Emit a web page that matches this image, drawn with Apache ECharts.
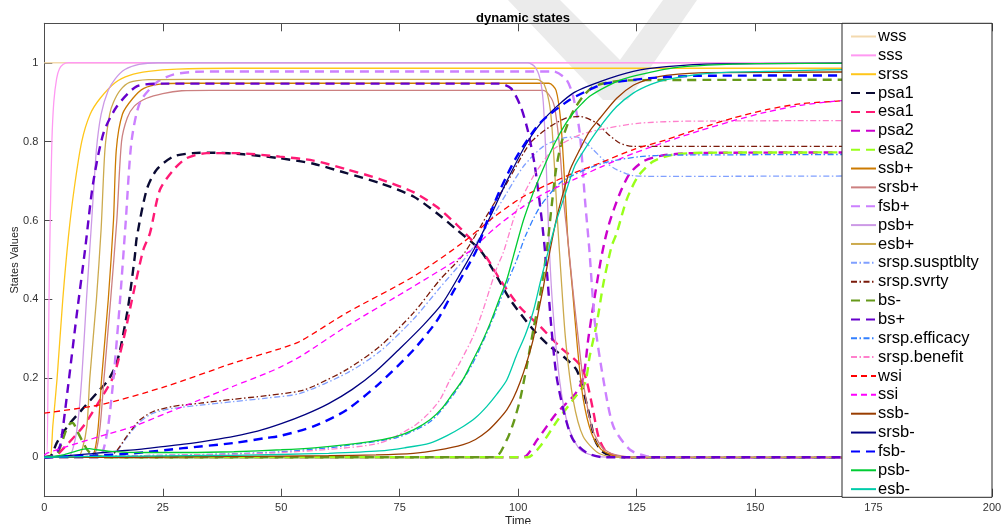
<!DOCTYPE html>
<html>
<head>
<meta charset="utf-8">
<script src="https://cdn.jsdelivr.net/npm/echarts@6/dist/echarts.min.js"></script>
<style>
html,body{margin:0;padding:0;background:#fff;}
#chart{width:1002px;height:524px;}
</style>
</head>
<body>
<div id="chart"></div>
<script>
// ---------- data (x = Time, y = state value) ----------
const xTicks = [0, 25, 50, 75, 100, 125, 150, 175, 200];
const yTicks = [0, 0.2, 0.4, 0.6, 0.8, 1];

const wss = [[0,1],[200,1]];
const sss = [[0,0],[0.5,0],[0.8,0.2],[1.0,0.4],[1.25,0.6],[1.6,0.8],[2.0,0.9],[2.6,0.96],[3.2,0.985],[4,0.996],[5,1],[200,1]];
const srss = [[0,0],[1.2,0],[1.8,0.08],[2.7,0.2],[3.9,0.4],[5.1,0.56],[6.3,0.68],[7.9,0.8],[9.7,0.87],[11.8,0.91],[15,0.95],[18,0.968],[22,0.978],[28,0.984],[40,0.986],[200,0.986]];
const psa1 = [[0,0],[1.5,0.005],[2.6,0.036],[5,0.08],[7.9,0.12],[11.1,0.163],[13.5,0.196],[15,0.23],[16,0.272],[17.7,0.382],[19.1,0.509],[19.5,0.556],[21.6,0.678],[23.7,0.729],[27.2,0.762],[31.4,0.771],[35.7,0.772],[42,0.768],[49.7,0.758],[56.8,0.744],[63.8,0.72],[70.8,0.695],[77.9,0.661],[82.8,0.619],[87,0.577],[91.9,0.526],[94.7,0.475],[98.3,0.4],[103.2,0.323],[106.7,0.281],[109.5,0.256],[112.3,0.222],[113.7,0.171],[115.1,0.103],[116.2,0.044],[117.7,0.015],[120,0.003],[123,0],[200,0]];
const esa1 = [[0,0],[2.5,0.005],[4.4,0.027],[8.2,0.078],[11.8,0.146],[14.6,0.205],[16.7,0.298],[18.8,0.416],[20.9,0.526],[22.3,0.568],[24.4,0.678],[27.3,0.729],[30,0.758],[34.3,0.771],[40,0.771],[49.7,0.762],[56.8,0.752],[63.8,0.73],[70.8,0.705],[77.9,0.672],[82.8,0.635],[87,0.59],[91,0.54],[93.4,0.505],[96.2,0.45],[100.4,0.38],[104.6,0.332],[108.8,0.28],[113,0.235],[114.4,0.196],[115.8,0.12],[117,0.05],[118.5,0.015],[121,0.002],[124,0],[200,0]];
const psa2 = [[0,0],[101,0],[104,0.044],[108,0.11],[112,0.16],[113.7,0.2],[114.8,0.3],[115.8,0.38],[117.3,0.49],[118.3,0.55],[119.4,0.6],[121.5,0.67],[123.6,0.72],[126.4,0.75],[130,0.764],[135,0.77],[145,0.772],[200,0.773]];
const esa2 = [[0,0],[102,0],[104.6,0.027],[108.1,0.09],[111.6,0.146],[114.1,0.188],[115.1,0.256],[116.6,0.34],[118,0.441],[119.7,0.534],[120.8,0.568],[122.9,0.653],[125.3,0.712],[128.5,0.75],[132.7,0.767],[140,0.772],[200,0.773]];
const ssbPlus = [[0,0],[9.8,0],[10.7,0.02],[11.4,0.08],[12.1,0.2],[13.5,0.4],[14.6,0.6],[15.2,0.78],[16.5,0.87],[18.7,0.91],[21,0.935],[24.4,0.946],[30,0.948],[106.5,0.948],[108,0.93],[109,0.85],[109.8,0.7],[110.5,0.55],[111.5,0.42],[112.5,0.28],[113.7,0.15],[115.5,0.06],[117.5,0.02],[120,0.005],[125,0],[200,0]];
const srsbPlus = [[0,0],[10,0],[11,0.02],[11.8,0.08],[12.6,0.2],[14,0.4],[15.3,0.6],[16.3,0.8],[17.5,0.86],[19,0.89],[21.6,0.91],[25,0.922],[29,0.929],[35,0.93],[105.3,0.93],[107,0.91],[107.8,0.88],[108.8,0.78],[109.6,0.65],[110.5,0.55],[111.5,0.43],[112.7,0.3],[114,0.17],[115.7,0.07],[117.7,0.025],[120,0.008],[125,0],[200,0]];
const fsbPlus = [[0,0],[11.5,0],[12.5,0.02],[13.5,0.08],[14.6,0.2],[16,0.4],[17.2,0.6],[18.4,0.8],[20.2,0.9],[23.7,0.95],[27.2,0.97],[32,0.977],[40,0.978],[107.4,0.978],[110.2,0.957],[111.6,0.915],[113,0.822],[114.1,0.653],[115,0.53],[116.2,0.34],[118,0.196],[120.1,0.078],[123.6,0.019],[127,0.003],[130,0],[200,0]];
const psbPlus = [[0,0],[5,0],[6,0.02],[7,0.08],[7.9,0.2],[8.9,0.4],[10,0.6],[11,0.78],[12,0.87],[13.5,0.93],[15,0.96],[17,0.983],[20,0.996],[24,1],[102,1],[103.5,0.99],[104.6,0.96],[105.3,0.9],[105.9,0.75],[106.5,0.55],[107.3,0.38],[108.8,0.19],[110.6,0.078],[113,0.02],[116,0.004],[120,0],[200,0]];
const esbPlus = [[0,0],[7,0],[8,0.02],[9,0.08],[9.6,0.2],[11,0.4],[12,0.58],[12.8,0.78],[13.8,0.87],[14.6,0.9],[16,0.93],[18,0.95],[22,0.957],[30,0.958],[104,0.958],[105.5,0.945],[106.8,0.88],[107.6,0.75],[108.3,0.6],[109,0.47],[110,0.3],[111.6,0.146],[113.7,0.053],[117,0.01],[121,0],[200,0]];
const susptblty = [[0,0],[13,0],[14,0.003],[15.5,0.018],[17.4,0.05],[20.2,0.09],[23,0.112],[27.2,0.124],[32.9,0.132],[39.9,0.141],[46.9,0.15],[54,0.162],[63.8,0.213],[70.8,0.268],[77.9,0.35],[83.5,0.43],[88.5,0.5],[91,0.54],[94.1,0.6],[97.6,0.67],[101.1,0.737],[105.3,0.788],[109.5,0.809],[112.3,0.812],[114,0.8],[115.8,0.78],[118.7,0.746],[120.8,0.729],[124.3,0.714],[130,0.712],[200,0.714]];
const svrty = [[0,0],[13,0],[14,0.003],[15.5,0.02],[17.4,0.053],[20.2,0.095],[23,0.116],[27.2,0.129],[32.9,0.137],[39.9,0.147],[46.9,0.156],[54,0.168],[56.8,0.18],[63.8,0.222],[70.8,0.281],[77.9,0.366],[83.5,0.45],[88.5,0.515],[94.1,0.627],[97.6,0.695],[102.5,0.796],[106.7,0.838],[110.2,0.86],[113,0.864],[116.6,0.847],[118.7,0.822],[121.5,0.796],[124.3,0.788],[130,0.788],[200,0.788]];
const bsMinus = [[0,0],[2.5,0.005],[3.5,0.03],[4.5,0.065],[5.4,0.085],[6,0.087],[7,0.065],[7.9,0.044],[9,0.02],[10,0.008],[12,0.002],[15,0],[95,0],[97.6,0.044],[99,0.087],[100.4,0.146],[101.8,0.23],[103.2,0.323],[104.6,0.408],[106,0.52],[107.1,0.64],[108,0.73],[109.2,0.8],[111.3,0.87],[113.7,0.915],[116,0.94],[120,0.952],[125,0.956],[200,0.957]];
const bsPlus = [[0,0],[2,0.003],[3,0.02],[3.5,0.037],[5.1,0.188],[6.8,0.357],[8.6,0.526],[10.3,0.695],[12.5,0.822],[15.3,0.889],[19.5,0.94],[25,0.947],[96,0.947],[98.5,0.935],[100.5,0.89],[102,0.83],[103.5,0.74],[105,0.6],[106,0.48],[107,0.33],[108.1,0.205],[109.9,0.103],[111.6,0.044],[114.5,0.011],[118,0],[200,0]];
const efficacy = [[0,0],[10,0.002],[20,0.004],[30,0.006],[40,0.009],[50,0.014],[60,0.024],[64,0.03],[74.4,0.05],[81.4,0.09],[86.3,0.158],[90.5,0.24],[94.1,0.335],[97.6,0.44],[99.7,0.5],[101.5,0.56],[104.6,0.635],[108.8,0.695],[111.6,0.715],[115,0.733],[118.7,0.748],[125.7,0.762],[132.7,0.766],[200,0.768]];
const benefit = [[0,0],[10,0.002],[20,0.004],[30,0.006],[40,0.008],[50,0.012],[60,0.02],[70.8,0.036],[77.9,0.078],[81,0.11],[83.5,0.146],[85.6,0.196],[87.7,0.24],[90.5,0.306],[92.5,0.37],[94.1,0.43],[95.5,0.48],[96.9,0.52],[99.7,0.627],[103.2,0.712],[107.4,0.78],[113,0.817],[118.7,0.834],[125.7,0.847],[136.3,0.852],[200,0.854]];
const wsi = [[0,0.112],[11.8,0.133],[25.8,0.18],[39.9,0.239],[49.7,0.275],[54,0.294],[63.8,0.366],[77.9,0.458],[88.4,0.545],[95,0.61],[101.1,0.661],[106,0.69],[111.6,0.72],[117.3,0.746],[124.3,0.78],[131.3,0.805],[138.4,0.834],[145.4,0.86],[152.4,0.881],[159.5,0.896],[166.5,0.902],[180,0.915],[200,0.93]];
const ssi = [[0,0.005],[0.5,0.01],[4.7,0.027],[11.8,0.053],[18.8,0.078],[25.8,0.112],[32.9,0.146],[39.9,0.18],[46.9,0.213],[49.7,0.228],[54,0.255],[63.8,0.332],[77.9,0.433],[89.5,0.52],[95,0.58],[101.1,0.636],[106,0.672],[111.6,0.703],[117.3,0.735],[124.3,0.77],[131.3,0.8],[138.4,0.828],[145.4,0.853],[152.4,0.875],[159.5,0.892],[166.5,0.902],[180,0.915],[200,0.93]];
const ssbMinus = [[0,0],[20,0],[40,0.002],[60,0.004],[70,0.006],[77.9,0.01],[83,0.018],[88.4,0.032],[91,0.045],[93.4,0.065],[95.5,0.09],[97.6,0.12],[99,0.15],[100.4,0.19],[101.8,0.24],[103.2,0.3],[104.3,0.37],[105.3,0.43],[106.5,0.51],[108,0.6],[109.5,0.67],[111,0.73],[113,0.78],[115,0.825],[117.3,0.86],[120.8,0.91],[124.3,0.943],[128,0.96],[131.3,0.968],[140,0.975],[200,0.977]];
const srsbMinus = [[0,0],[5,0.004],[10,0.009],[15,0.015],[20,0.02],[25,0.027],[30,0.034],[35,0.043],[40,0.053],[45,0.066],[50,0.085],[55,0.108],[60,0.136],[65,0.172],[70,0.218],[75,0.275],[80,0.335],[84,0.39],[88,0.47],[91.5,0.545],[94.7,0.625],[97.6,0.7],[101.8,0.796],[106,0.864],[111.6,0.923],[117.3,0.952],[124.3,0.978],[131.3,0.99],[142,0.997],[200,1]];
const fsbMinus = [[0,0],[10,0.004],[18.7,0.01],[29.3,0.023],[39.9,0.036],[46.9,0.049],[49.7,0.054],[56.8,0.078],[63.8,0.12],[70.8,0.188],[77.9,0.272],[82.8,0.345],[86.3,0.42],[88,0.455],[91.2,0.525],[93.5,0.6],[96.2,0.678],[99.7,0.762],[104.6,0.847],[110.9,0.906],[116.6,0.94],[118.7,0.948],[127.8,0.961],[138.4,0.967],[200,0.968]];
const psbMinus = [[0,0],[2,0.002],[4,0.006],[6,0.013],[8,0.02],[9.5,0.022],[11,0.019],[14,0.015],[20,0.012],[30,0.012],[40,0.014],[50,0.019],[57,0.024],[63.8,0.032],[70,0.042],[74.4,0.053],[78,0.07],[81.4,0.095],[84,0.125],[86.3,0.163],[88.5,0.2],[90.5,0.247],[92.3,0.29],[94.1,0.34],[96,0.4],[97.6,0.45],[99,0.51],[101.1,0.6],[103,0.665],[104.6,0.712],[106.5,0.765],[108.1,0.805],[110,0.845],[111.6,0.872],[113.5,0.897],[115.1,0.915],[118.7,0.94],[122,0.958],[125.7,0.97],[132.7,0.987],[140,0.994],[150,0.998],[200,1]];
const esbMinus = [[0,0],[10,0.002],[20,0.003],[30,0.004],[40,0.005],[49.7,0.007],[60,0.01],[70.8,0.016],[76,0.024],[81.4,0.036],[85,0.055],[88.4,0.078],[91,0.1],[93.4,0.129],[95.5,0.16],[97.6,0.196],[99.7,0.26],[101.5,0.31],[103.2,0.37],[104.8,0.45],[106.3,0.52],[108.1,0.6],[110,0.67],[112,0.74],[114,0.78],[117.3,0.838],[120.8,0.889],[124.3,0.923],[128,0.945],[131.3,0.957],[138.4,0.971],[145,0.976],[152.4,0.978],[165,0.982],[200,0.985]];

const seriesNames = ['wss','sss','srss','psa1','esa1','psa2','esa2','ssb+','srsb+','fsb+','psb+','esb+','srsp.susptblty','srsp.svrty','bs-','bs+','srsp.efficacy','srsp.benefit','wsi','ssi','ssb-','srsb-','fsb-','psb-','esb-'];
const seriesData = [wss,sss,srss,psa1,esa1,psa2,esa2,ssbPlus,srsbPlus,fsbPlus,psbPlus,esbPlus,susptblty,svrty,bsMinus,bsPlus,efficacy,benefit,wsi,ssi,ssbMinus,srsbMinus,fsbMinus,psbMinus,esbMinus];

// ---------- styles ----------
const SOLID = 'solid', THICK = [9,6], THIN = [6,4], DASHDOT = [6,2.5,1.5,2.5];
const seriesStyles = [
  ['#f3d9ae', SOLID, 1.3], ['#ff99f2', SOLID, 1.3], ['#ffc61a', SOLID, 1.3],
  ['#0a0a33', THICK, 2.4], ['#ff1a75', THICK, 2.4], ['#cc00cc', THICK, 2.4], ['#99ff1a', THICK, 2.4],
  ['#cc7a00', SOLID, 1.3], ['#cc8080', SOLID, 1.3], ['#cc80ff', THICK, 2.4], ['#cc99e6', SOLID, 1.3], ['#ccaa4d', SOLID, 1.3],
  ['#80a0ff', DASHDOT, 1.3], ['#7a1a0a', DASHDOT, 1.3], ['#66991a', THICK, 2.4], ['#6600cc', THICK, 2.4],
  ['#3380ff', DASHDOT, 1.3], ['#ff80cc', DASHDOT, 1.3], ['#ff0000', THIN, 1.3], ['#ff00ff', THIN, 1.3],
  ['#993d00', SOLID, 1.3], ['#000080', SOLID, 1.3], ['#0000ff', THICK, 2.4], ['#00cc33', SOLID, 1.3], ['#00ccaa', SOLID, 1.3]
];

const FONT = 'Liberation Sans, Arial, Helvetica, sans-serif';
const AX = '#4d4d4d';
const chart = echarts.init(document.getElementById('chart'), null, {renderer: 'canvas'});

const series = seriesNames.map((n, i) => ({
  name: n, type: 'line', data: seriesData[i], showSymbol: false, symbol: 'none',
  smooth: 0.25, clip: true,
  lineStyle: {color: seriesStyles[i][0], type: seriesStyles[i][1], width: seriesStyles[i][2]},
  itemStyle: {color: seriesStyles[i][0]},
  emphasis: {disabled: true}
}));

chart.setOption({
  animation: false,
  backgroundColor: '#ffffff',
  title: {
    text: 'dynamic states', left: 518, top: 7, textAlign: 'center',
    textStyle: {fontFamily: FONT, fontSize: 13, fontWeight: 'bold', color: '#000'}
  },
  grid: {left: 44.3, right: 10, top: 23.3, bottom: 27.3, containLabel: false, outerBoundsMode: 'none'},
  xAxis: [{
    type: 'value', min: 0, max: 200, interval: 25, position: 'bottom',
    name: 'Time', nameLocation: 'middle', nameGap: 19, nameMoveOverlap: false,
    nameTextStyle: {fontFamily: FONT, fontSize: 12, color: '#262626'},
    axisLine: {onZero: false, lineStyle: {color: AX, width: 1}},
    axisTick: {inside: true, length: 8, lineStyle: {color: AX}},
    axisLabel: {fontFamily: FONT, fontSize: 11, color: '#333', margin: 6,
      formatter: v => xTicks.includes(v) ? String(v) : ''},
    splitLine: {show: false}
  }, {
    type: 'value', min: 0, max: 200, interval: 25, position: 'top',
    axisLine: {onZero: false, lineStyle: {color: AX, width: 1}},
    axisTick: {inside: true, length: 8, lineStyle: {color: AX}},
    axisLabel: {show: false}, splitLine: {show: false}
  }],
  yAxis: [{
    type: 'value', min: -0.1, max: 1.1,
    name: 'States Values', nameLocation: 'middle', nameGap: 24, nameRotate: 90, nameMoveOverlap: false,
    nameTextStyle: {fontFamily: FONT, fontSize: 11, color: '#262626'},
    axisLine: {show: true, onZero: false, lineStyle: {color: AX, width: 1}},
    axisTick: {show: true, inside: true, length: 8, customValues: yTicks, lineStyle: {color: AX}},
    axisLabel: {fontFamily: FONT, fontSize: 11, color: '#333', margin: 6, customValues: yTicks,
      formatter: v => String(Math.round(v * 10) / 10)},
    splitLine: {show: false}
  }],
  legend: {
    data: seriesNames, orient: 'vertical', left: 850, top: 28, padding: 0,
    itemWidth: 25, itemHeight: 14, itemGap: 1.86, z: 20, height: 470,
    itemStyle: {color: 'rgba(0,0,0,0)', borderWidth: 0, opacity: 0},
    textStyle: {fontFamily: FONT, fontSize: 16.5, color: '#000', padding: [0,0,0,-3]},
    selectedMode: false
  },
  graphic: [
    {type: 'polygon', z: -10, silent: true,
      shape: {points: [[508,0],[560,0],[620,60],[663,0],[697,0],[628,100],[603,100]]},
      style: {fill: '#ebebeb'}},
    {type: 'rect', z: 15, silent: true,
      shape: {x: 842, y: 23.3, width: 150, height: 474},
      style: {fill: '#ffffff', stroke: '#262626', lineWidth: 1}}
  ],
  series: series
});
</script>
</body>
</html>
